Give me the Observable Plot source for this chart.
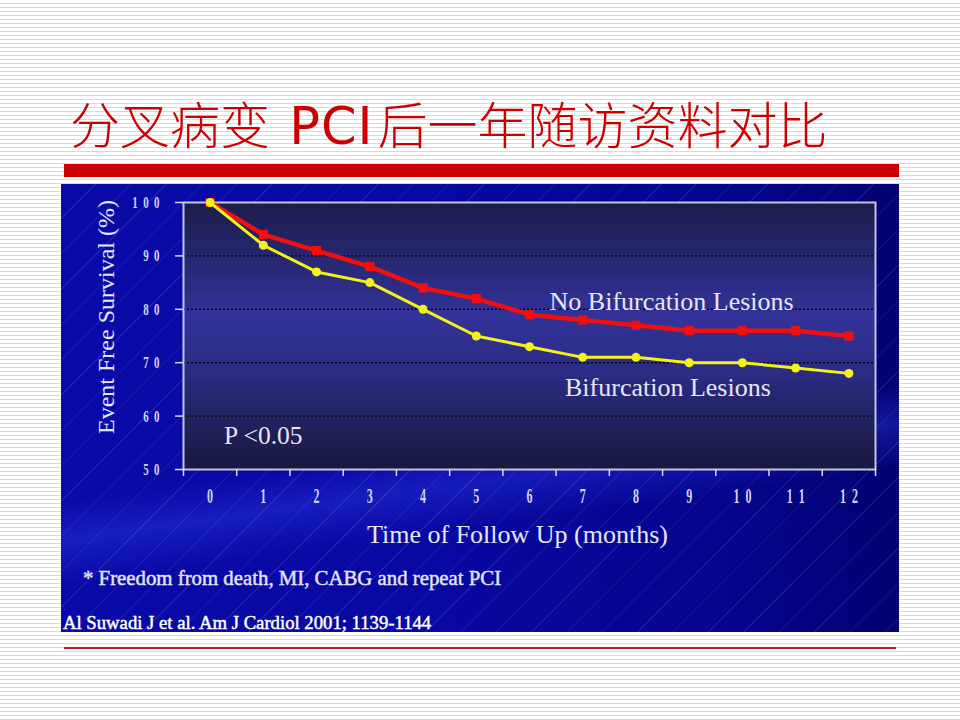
<!DOCTYPE html>
<html><head><meta charset="utf-8">
<script src="https://cdn.jsdelivr.net/npm/d3@7"></script>
<script src="https://cdn.jsdelivr.net/npm/@observablehq/plot@0.6"></script>
<style>
html,body{margin:0;padding:0;}
body{width:960px;height:720px;position:relative;overflow:hidden;
  background:repeating-linear-gradient(to bottom,#ffffff 0px,#ffffff 3px,#dadada 3px,#dadada 4px);}
#title{position:absolute;left:70px;top:97px;font-family:"Noto Sans CJK SC",sans-serif;font-size:50px;line-height:50px;color:#cc0000;white-space:nowrap;font-weight:300;}
#title .lat{font-family:"DejaVu Sans",sans-serif;font-weight:normal;font-size:51px;letter-spacing:1px;margin-left:2px;margin-right:4px;}
#bar{position:absolute;left:64px;top:164px;width:835px;height:13px;background:#cc0000;}
#panel{position:absolute;left:61px;top:184px;width:838px;height:448px;overflow:hidden;
  background:
    repeating-linear-gradient(135deg, rgba(255,255,255,0) 0px, rgba(255,255,255,0) 24px, rgba(255,255,255,0.09) 24px, rgba(255,255,255,0.09) 25px),
    linear-gradient(172deg, rgba(60,80,255,0) 56%, rgba(60,80,255,0.28) 63%, rgba(60,80,255,0) 71%),
    linear-gradient(to right, #0a0aa8 0%, #0808a2 45%, #05058f 78%, #020272 100%);}
#panel svg{position:absolute;left:0;top:0;}
.note{position:absolute;font-family:"Liberation Serif",serif;font-weight:normal;color:#e4e4f4;white-space:nowrap;line-height:1;-webkit-text-stroke:0.45px currentColor;}
#foot{left:22px;top:384px;font-size:20.8px;}
#cite{left:2px;top:430px;font-size:18.7px;color:#ffffff;}
#bottomline{position:absolute;left:64px;top:647px;width:832px;height:2px;background:#b02020;}
</style>
</head>
<body>
<div id="title">分叉病变<span class="lat"> PCI</span>后一年随访资料对比</div>
<div id="bar"></div>
<div id="panel"></div>
<div id="bottomline"></div>
<script>
// ---- data ----
const months = [0, 1, 2, 3, 4, 5, 6, 7, 8, 9, 10, 11, 12];
const noBifurcation = [100, 94, 91, 88, 84, 82, 79, 78, 77, 76, 76, 76, 75];
const bifurcation = [100, 92, 87, 85, 80, 75, 73, 71, 71, 70, 70, 69, 68];
const seriesNames = ["No Bifurcation Lesions", "Bifurcation Lesions"];
const yTicks = [50, 60, 70, 80, 90, 100];
const gridTicks = [60, 70, 80, 90];
const xBoundaryTicks = [-0.5, 0.5, 1.5, 2.5, 3.5, 4.5, 5.5, 6.5, 7.5, 8.5, 9.5, 10.5, 11.5, 12.5];
const yLabel = "Event Free Survival (%)";
const xLabel = "Time of Follow Up (months)";
const pLabel = "P <0.05";
const footnote = "* Freedom from death, MI, CABG and repeat PCI";
const citation = "Al Suwadi J  et al. Am J Cardiol 2001; 1139-1144";

const rowsNo = months.map((m, i) => ({month: m, value: noBifurcation[i]}));
const rowsBi = months.map((m, i) => ({month: m, value: bifurcation[i]}));

const serif = "'Liberation Serif', 'Times New Roman', serif";
const textCol = "#e6e6f4";
const spaced = d => String(d).split("").join("\u2002");

const chart = Plot.plot({
  width: 838, height: 448,
  marginLeft: 122, marginRight: 24, marginTop: 18, marginBottom: 163,
  style: {background: "transparent", overflow: "visible"},
  x: {domain: [-0.5, 12.5]},
  y: {domain: [50, 100]},
  marks: [
    Plot.frame({fill: "url(#plotBg)", stroke: null}),
    Plot.ruleY(gridTicks, {stroke: "#000", strokeDasharray: "2,2", strokeWidth: 1.4, strokeOpacity: 0.9}),
    Plot.frame({stroke: "#c4c4e2", strokeWidth: 2, fill: "none"}),
    Plot.axisY(yTicks, {tickSize: 8, tickPadding: 16, stroke: "#d8d8ee", strokeWidth: 1.5, fill: "#d4d4f0",
      fontSize: 17, fontWeight: "bold", fontFamily: serif, tickFormat: spaced, label: null}),
    Plot.axisX(xBoundaryTicks, {tickSize: 7, stroke: "#d8d8ee", strokeWidth: 1.5, tickFormat: () => "", label: null}),
    Plot.axisX(months, {tickSize: 0, tickPadding: 19, fill: "#d4d4f0", fontSize: 20, fontWeight: "bold",
      fontFamily: serif, tickFormat: spaced, label: null}),
    Plot.line(rowsNo, {x: "month", y: "value", stroke: "#f01010", strokeWidth: 4.5}),
    Plot.dot(rowsNo, {x: "month", y: "value", symbol: "square", r: 5.2, fill: "#f01010"}),
    Plot.line(rowsBi, {x: "month", y: "value", stroke: "#f2f21c", strokeWidth: 3}),
    Plot.dot(rowsBi, {x: "month", y: "value", r: 4.5, fill: "#f2f21c"}),
    Plot.text([seriesNames[0]], {x: 8.67, y: 81.5, text: d => d, fill: textCol, fontSize: 26, fontFamily: serif}),
    Plot.text([seriesNames[1]], {x: 8.6, y: 65.4, text: d => d, fill: textCol, fontSize: 26, fontFamily: serif}),
    Plot.text([pLabel], {x: 0.26, y: 56.3, text: d => d, textAnchor: "start", fill: textCol, fontSize: 25.5, fontFamily: serif}),
    Plot.text([xLabel], {frameAnchor: "bottom", dx: -12, dy: 73, text: d => d, fill: textCol, fontSize: 26, fontFamily: serif}),
    Plot.text([yLabel], {frameAnchor: "left", textAnchor: "middle", dx: -77, dy: -19, rotate: -90, text: d => d, fill: textCol, fontSize: 24, fontFamily: serif})
  ]
});

// gradient for the plotting area
const svg = d3.select(chart);
const defs = svg.insert("defs", ":first-child");
const g = defs.append("linearGradient").attr("id", "plotBg").attr("x1", 0).attr("y1", 0).attr("x2", 0).attr("y2", 1);
[[0, "#1c1c4a"], [0.42, "#32329a"], [0.62, "#2c2c86"], [1, "#18183e"]].forEach(([o, c]) =>
  g.append("stop").attr("offset", o).attr("stop-color", c));

// condensed tick numerals
function squeeze(label, s) {
  svg.selectAll(`g[aria-label="${label}"] text`).each(function () {
    const t = this.getAttribute("transform") || "";
    this.setAttribute("transform", t + ` scale(${s},1)`);
  });
}
squeeze("y-axis tick label", 0.64);
squeeze("x-axis tick label", 0.6);

const panel = document.getElementById("panel");
panel.appendChild(chart);
const f = document.createElement("div"); f.className = "note"; f.id = "foot"; f.textContent = footnote; panel.appendChild(f);
const c = document.createElement("div"); c.className = "note"; c.id = "cite"; c.textContent = citation; panel.appendChild(c);
</script>
</body></html>
